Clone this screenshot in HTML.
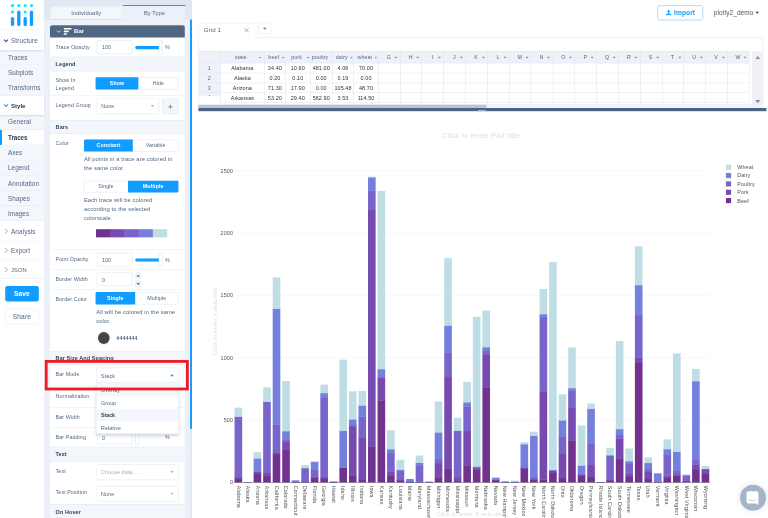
<!DOCTYPE html>
<html lang="en"><head><meta charset="utf-8"><title>Chart Studio - Bar Mode</title><style>
html,body{margin:0;padding:0;background:#fff;}
body{width:768px;height:518px;overflow:hidden;position:relative;font-family:"Liberation Sans",Arial,sans-serif;}
#app{position:absolute;left:0;top:0;width:1920px;height:1295px;transform:scale(0.4);transform-origin:0 0;overflow:hidden;}
#wrap{position:absolute;left:0;top:0;width:768px;height:518px;overflow:hidden;filter:url(#soft);}
#app div,#app svg.abs{position:absolute;}
.t{height:40px;line-height:40px;white-space:nowrap;letter-spacing:0.25px;}
</style></head><body><svg width="0" height="0" style="position:absolute"><defs><filter id="soft" x="0" y="0" width="100%" height="100%" color-interpolation-filters="sRGB"><feGaussianBlur stdDeviation="0.4"/></filter></defs></svg><div id="wrap"><div id="app">
<div style="left:0px;top:0px;width:110px;height:1295px;background:#fff;"></div>
<svg class="abs" style="left:0;top:0" width="110.0" height="77.5"><circle cx="31.25" cy="14.00" r="3.88" fill="#09e5ff"/><circle cx="47.00" cy="14.00" r="3.88" fill="#09e5ff"/><circle cx="63.00" cy="14.00" r="3.88" fill="#09e5ff"/><circle cx="78.75" cy="14.00" r="3.88" fill="#09e5ff"/><circle cx="31.25" cy="30.00" r="3.88" fill="#09e5ff"/><circle cx="63.00" cy="30.00" r="3.88" fill="#09e5ff"/><rect x="27.12" y="42.50" width="8.25" height="22.75" rx="4.12" fill="#119dff"/><rect x="42.88" y="26.50" width="8.25" height="38.75" rx="4.12" fill="#119dff"/><rect x="58.88" y="42.50" width="8.25" height="22.75" rx="4.12" fill="#119dff"/><rect x="74.62" y="26.50" width="8.25" height="38.75" rx="4.12" fill="#119dff"/></svg>
<div style="left:5px;top:74.25px;width:100px;height:1px;background:#dfe8f3;"></div>
<div style="left:0px;top:77px;width:110px;height:48px;background:#fff;box-shadow:0 2px 5px rgba(80,103,132,0.18);z-index:2;"><svg class="abs" style="left:9.0px;top:18.80px" width="12" height="12" viewBox="0 0 12 12"><path d="M1.5 3.5 L6 8 L10.5 3.5" fill="none" stroke="#3b506f" stroke-width="2.7" stroke-linecap="round" stroke-linejoin="round"/></svg></div>
<div class="t" style="left:27.5px;top:82.50px;font-size:16px;color:#506784;font-weight:400;z-index:3;">Structure</div>
<div style="left:0px;top:125px;width:110px;height:38px;background:#f3f6fa;border-bottom:1.5px solid #d9e1ec;box-sizing:border-box;"></div>
<div class="t" style="left:20px;top:123.50px;font-size:15.7px;color:#506784;font-weight:400;">Traces</div>
<div style="left:0px;top:163px;width:110px;height:38px;background:#f3f6fa;border-bottom:1.5px solid #d9e1ec;box-sizing:border-box;"></div>
<div class="t" style="left:20px;top:161.50px;font-size:15.7px;color:#506784;font-weight:400;">Subplots</div>
<div style="left:0px;top:201px;width:110px;height:38px;background:#f3f6fa;border-bottom:1.5px solid #d9e1ec;box-sizing:border-box;"></div>
<div class="t" style="left:20px;top:199.50px;font-size:15.7px;color:#506784;font-weight:400;">Transforms</div>
<div style="left:0px;top:239px;width:110px;height:48px;background:#fff;box-shadow:0 2px 5px rgba(80,103,132,0.18);z-index:2;"><svg class="abs" style="left:9.0px;top:18.80px" width="12" height="12" viewBox="0 0 12 12"><path d="M1.5 3.5 L6 8 L10.5 3.5" fill="none" stroke="#119dff" stroke-width="2.7" stroke-linecap="round" stroke-linejoin="round"/></svg></div>
<div class="t" style="left:27.5px;top:244.50px;font-size:15.6px;color:#2a3f5f;font-weight:700;z-index:3;letter-spacing:-0.2px;">Style</div>
<div style="left:0px;top:287px;width:110px;height:38px;background:#f3f6fa;border-bottom:1.5px solid #d9e1ec;box-sizing:border-box;"></div>
<div class="t" style="left:20px;top:285.50px;font-size:15.7px;color:#506784;font-weight:400;">General</div>
<div style="left:0px;top:325px;width:110px;height:38px;background:#fff;border-bottom:1.5px solid #d9e1ec;box-sizing:border-box;border-left:5.5px solid #119dff;"></div>
<div class="t" style="left:20px;top:323.50px;font-size:15.7px;color:#2a3f5f;font-weight:700;letter-spacing:-0.2px;">Traces</div>
<div style="left:0px;top:363px;width:110px;height:38px;background:#f3f6fa;border-bottom:1.5px solid #d9e1ec;box-sizing:border-box;"></div>
<div class="t" style="left:20px;top:361.50px;font-size:15.7px;color:#506784;font-weight:400;">Axes</div>
<div style="left:0px;top:401px;width:110px;height:38px;background:#f3f6fa;border-bottom:1.5px solid #d9e1ec;box-sizing:border-box;"></div>
<div class="t" style="left:20px;top:399.50px;font-size:15.7px;color:#506784;font-weight:400;">Legend</div>
<div style="left:0px;top:439px;width:110px;height:38px;background:#f3f6fa;border-bottom:1.5px solid #d9e1ec;box-sizing:border-box;"></div>
<div class="t" style="left:20px;top:438.50px;font-size:15.7px;color:#506784;font-weight:400;">Annotation</div>
<div style="left:0px;top:477px;width:110px;height:38px;background:#f3f6fa;border-bottom:1.5px solid #d9e1ec;box-sizing:border-box;"></div>
<div class="t" style="left:20px;top:477.50px;font-size:15.7px;color:#506784;font-weight:400;">Shapes</div>
<div style="left:0px;top:515px;width:110px;height:38px;background:#f3f6fa;border-bottom:1.5px solid #d9e1ec;box-sizing:border-box;"></div>
<div class="t" style="left:20px;top:513.50px;font-size:15.7px;color:#506784;font-weight:400;">Images</div>
<div style="left:0px;top:553px;width:110px;height:48px;background:#fff;border-bottom:1.5px solid #d9e1ec;box-sizing:border-box;"><svg class="abs" style="left:9.75px;top:17.50px" width="12" height="14" viewBox="0 0 12 14"><path d="M3.5 1.5 L8.5 7 L3.5 12.5" fill="none" stroke="#506784" stroke-width="1.4" stroke-linecap="round" stroke-linejoin="round"/></svg></div>
<div class="t" style="left:27.5px;top:558.50px;font-size:16px;color:#506784;font-weight:400;z-index:3;">Analysis</div>
<div style="left:0px;top:601px;width:110px;height:48px;background:#fff;border-bottom:1.5px solid #d9e1ec;box-sizing:border-box;"><svg class="abs" style="left:9.75px;top:17.50px" width="12" height="14" viewBox="0 0 12 14"><path d="M3.5 1.5 L8.5 7 L3.5 12.5" fill="none" stroke="#506784" stroke-width="1.4" stroke-linecap="round" stroke-linejoin="round"/></svg></div>
<div class="t" style="left:27.5px;top:606.50px;font-size:16px;color:#506784;font-weight:400;z-index:3;">Export</div>
<div style="left:0px;top:649px;width:110px;height:48px;background:#fff;border-bottom:1.5px solid #d9e1ec;box-sizing:border-box;"><svg class="abs" style="left:9.75px;top:17.50px" width="12" height="14" viewBox="0 0 12 14"><path d="M3.5 1.5 L8.5 7 L3.5 12.5" fill="none" stroke="#506784" stroke-width="1.4" stroke-linecap="round" stroke-linejoin="round"/></svg></div>
<div class="t" style="left:27.5px;top:654.50px;font-size:14.4px;color:#506784;font-weight:400;z-index:3;">JSON</div>
<div style="left:12.5px;top:715.25px;width:84.38px;height:39px;background:#119dff;border-radius:5px;"></div>
<div class="t" style="left:14.75px;width:80px;text-align:center;top:714.50px;font-size:16.5px;color:#fff;font-weight:700;">Save</div>
<div style="left:13px;top:770.5px;width:83.5px;height:40px;background:#fff;border:1px solid #dfe8f3;border-radius:5px;box-sizing:border-box;"></div>
<div class="t" style="left:14.75px;width:80px;text-align:center;top:770.50px;font-size:16.5px;color:#506784;font-weight:400;">Share</div>
<div style="left:110px;top:0px;width:371.25px;height:1295px;background:#dfe8f3;"></div>
<div style="left:110px;top:48.5px;width:371.25px;height:1246.5px;background:#ecf0f8;"></div>
<div style="left:125px;top:15.62px;width:182.25px;height:33px;background:#f3f6fa;border:1px solid #dfe8f3;border-bottom:1px solid #dfe8f3;border-radius:4px 0 0 0;box-sizing:border-box;"></div>
<div class="t" style="left:115.50px;width:200px;text-align:center;top:13.00px;font-size:14.6px;color:#506784;font-weight:400;">Individually</div>
<div style="left:307.25px;top:11.75px;width:158px;height:37px;background:#ecf0f8;border-top:3.5px solid #119dff;border-right:1px solid #d3dde9;border-radius:4px 4px 0 0;box-sizing:border-box;"></div>
<div class="t" style="left:286.25px;width:200px;text-align:center;top:13.00px;font-size:14.1px;color:#506784;font-weight:400;">By Type</div>
<div style="left:125px;top:48px;width:182.25px;height:1.25px;background:#d0dae7;"></div>
<div style="left:475px;top:48.5px;width:6px;height:1246.5px;background:#e3e9f3;"></div>
<div style="left:475px;top:48.5px;width:5.75px;height:1023.25px;background:#1c9bff;"></div>
<div style="left:125px;top:62.5px;width:336.75px;height:1232.5px;background:#fff;"></div>
<div style="left:125px;top:62.5px;width:336.75px;height:31.88px;background:#506784;border-radius:5px 5px 0 0;"></div>
<svg class="abs" style="left:140.75px;top:73.25px" width="12" height="12" viewBox="0 0 12 12"><path d="M2 4 L6 8 L10 4" fill="none" stroke="#eef2f8" stroke-width="2.2" stroke-linecap="round" stroke-linejoin="round"/></svg>
<svg class="abs" style="left:158.5px;top:70.25px" width="22" height="18" viewBox="0 0 22 18"><rect x="0" y="0" width="20" height="4" rx="1" fill="#fff"/><rect x="0" y="6.5" width="13" height="4" rx="1" fill="#fff"/><rect x="0" y="13" width="8" height="4" rx="1" fill="#fff"/></svg>
<div class="t" style="left:185px;top:58.25px;font-size:15px;color:#fff;font-weight:700;">Bar</div>
<div class="t" style="left:139px;top:98.25px;font-size:13.3px;color:#506784;font-weight:400;">Trace Opacity</div>
<div style="left:241.5px;top:100.75px;width:89.13px;height:34.5px;background:#fff;border:1.5px solid #d2dbe8;border-radius:4px;box-sizing:border-box;"></div>
<div class="t" style="left:255px;top:98.50px;font-size:13.3px;color:#506784;font-weight:400;">100</div>
<div style="left:337.5px;top:115px;width:65px;height:7.5px;background:#fff;border:1px solid #dfe8f3;border-radius:4px;box-sizing:border-box;"></div>
<div style="left:337.5px;top:115px;width:65px;height:7.5px;background:#119dff;border-radius:4px;"></div>
<div style="left:397px;top:100.75px;width:9.75px;height:36px;background:#fff;border:1.5px solid #ccd6e4;border-radius:4px;box-sizing:border-box;"></div>
<div class="t" style="left:412.5px;top:98.75px;font-size:13.3px;color:#506784;font-weight:400;">%</div>
<div style="left:125px;top:142.25px;width:336.75px;height:35.25px;background:#f3f6fa;border-top:1px solid #dfe8f3;border-bottom:1px solid #dfe8f3;box-sizing:border-box;"></div>
<div class="t" style="left:139px;top:141.12px;font-size:13.6px;color:#2a3f5f;font-weight:700;">Legend</div>
<div class="t" style="left:139px;top:180.75px;font-size:13.3px;color:#506784;font-weight:400;">Show In</div>
<div class="t" style="left:139px;top:202.00px;font-size:13.3px;color:#506784;font-weight:400;">Legend</div>
<div style="left:239px;top:193.12px;width:207.25px;height:30.62px;background:#fff;border:1.5px solid #d2dbe8;border-radius:3px;box-sizing:border-box;"></div>
<div style="left:239px;top:193.12px;width:107.25px;height:30.62px;background:#119dff;border-radius:3px 0 0 3px;"></div>
<div class="t" style="left:192.62px;width:200px;text-align:center;top:188.44px;font-size:13.3px;color:#fff;font-weight:700;">Show</div>
<div class="t" style="left:296.25px;width:200px;text-align:center;top:188.44px;font-size:13.3px;color:#506784;font-weight:400;">Hide</div>
<div style="left:125px;top:238px;width:336.75px;height:1px;background:#dfe8f3;"></div>
<div class="t" style="left:139px;top:243.25px;font-size:13.3px;color:#506784;font-weight:400;">Legend Group</div>
<div style="left:241.5px;top:246.25px;width:156.25px;height:39px;background:#fff;border:1.5px solid #d2dbe8;border-radius:4px;box-sizing:border-box;"></div>
<div class="t" style="left:253px;top:247.00px;font-size:13.3px;color:#506784;font-weight:400;">None</div>
<svg class="abs" style="left:375.50px;top:262.25px" width="10" height="6" viewBox="0 0 10 6"><polygon points="0,0 10,0 5,6" fill="#aebbd0"/></svg>
<div style="left:405.62px;top:246.25px;width:40.62px;height:39px;background:#f3f6fa;border:1.5px solid #d2dbe8;border-radius:4px;box-sizing:border-box;"></div>
<svg class="abs" style="left:420.00px;top:261.25px" width="12" height="12" viewBox="0 0 12 12"><path d="M6 0.5V11.5M0.5 6H11.5" stroke="#506784" stroke-width="1.6" fill="none"/></svg>
<div style="left:125px;top:299.5px;width:336.75px;height:35.25px;background:#f3f6fa;border-top:1px solid #dfe8f3;border-bottom:1px solid #dfe8f3;box-sizing:border-box;"></div>
<div class="t" style="left:139px;top:298.38px;font-size:13.6px;color:#2a3f5f;font-weight:700;">Bars</div>
<div class="t" style="left:139px;top:338.75px;font-size:13.3px;color:#506784;font-weight:400;">Color</div>
<div style="left:209.75px;top:348.5px;width:236.5px;height:30.25px;background:#fff;border:1.5px solid #d2dbe8;border-radius:3px;box-sizing:border-box;"></div>
<div style="left:209.75px;top:348.5px;width:122.5px;height:30.25px;background:#119dff;border-radius:3px 0 0 3px;"></div>
<div class="t" style="left:171.00px;width:200px;text-align:center;top:343.62px;font-size:13.3px;color:#fff;font-weight:700;">Constant</div>
<div class="t" style="left:289.25px;width:200px;text-align:center;top:343.62px;font-size:13.3px;color:#506784;font-weight:400;">Variable</div>
<div class="t" style="left:209.75px;top:377.25px;font-size:14.4px;color:#506784;font-weight:400;">All points in a trace are colored in</div>
<div class="t" style="left:209.75px;top:400.25px;font-size:14.4px;color:#506784;font-weight:400;">the same color.</div>
<div style="left:209.75px;top:451.5px;width:236.5px;height:29.75px;background:#fff;border:1.5px solid #d2dbe8;border-radius:3px;box-sizing:border-box;"></div>
<div style="left:319.75px;top:451.5px;width:126.5px;height:29.75px;background:#119dff;border-radius:0 3px 3px 0;"></div>
<div class="t" style="left:164.75px;width:200px;text-align:center;top:446.38px;font-size:13.3px;color:#506784;font-weight:400;">Single</div>
<div class="t" style="left:283.00px;width:200px;text-align:center;top:446.38px;font-size:13.3px;color:#fff;font-weight:700;">Multiple</div>
<div class="t" style="left:209.75px;top:480.25px;font-size:14.4px;color:#506784;font-weight:400;">Each trace will be colored</div>
<div class="t" style="left:209.75px;top:502.00px;font-size:14.4px;color:#506784;font-weight:400;">according to the selected</div>
<div class="t" style="left:209.75px;top:524.25px;font-size:14.4px;color:#506784;font-weight:400;">colorscale.</div>
<div style="left:239.5px;top:573.12px;width:37px;height:20.62px;background:#71328d;"></div>
<div style="left:275.23px;top:573.12px;width:37px;height:20.62px;background:#774aaf;"></div>
<div style="left:310.95px;top:573.12px;width:37px;height:20.62px;background:#7864ca;"></div>
<div style="left:346.67px;top:573.12px;width:37px;height:20.62px;background:#757fdd;"></div>
<div style="left:382.4px;top:573.12px;width:35.72px;height:20.62px;background:#bfdde5;"></div>
<div style="left:125px;top:623.25px;width:336.75px;height:1px;background:#dfe8f3;"></div>
<div class="t" style="left:139px;top:628.25px;font-size:13.3px;color:#506784;font-weight:400;">Point Opacity</div>
<div style="left:241.5px;top:631.88px;width:89.13px;height:34.38px;background:#fff;border:1.5px solid #d2dbe8;border-radius:4px;box-sizing:border-box;"></div>
<div class="t" style="left:255px;top:629.56px;font-size:13.3px;color:#506784;font-weight:400;">100</div>
<div style="left:337.5px;top:646px;width:65px;height:7.5px;background:#fff;border:1px solid #dfe8f3;border-radius:4px;box-sizing:border-box;"></div>
<div style="left:337.5px;top:646px;width:65px;height:7.5px;background:#119dff;border-radius:4px;"></div>
<div style="left:397px;top:631.75px;width:9.75px;height:36px;background:#fff;border:1.5px solid #ccd6e4;border-radius:4px;box-sizing:border-box;"></div>
<div class="t" style="left:412.5px;top:629.75px;font-size:13.3px;color:#506784;font-weight:400;">%</div>
<div style="left:125px;top:673.25px;width:336.75px;height:1px;background:#dfe8f3;"></div>
<div class="t" style="left:139px;top:677.50px;font-size:13.3px;color:#506784;font-weight:400;">Border Width</div>
<div style="left:241.5px;top:681px;width:89.13px;height:34.25px;background:#fff;border:1.5px solid #d2dbe8;border-radius:4px;box-sizing:border-box;"></div>
<div class="t" style="left:255px;top:680.00px;font-size:13.3px;color:#506784;font-weight:400;">0</div>
<div style="left:338.5px;top:681px;width:14.75px;height:15.75px;background:#f3f6fa;border:1.5px solid #d2dbe8;border-radius:2px;box-sizing:border-box;"></div>
<svg class="abs" style="left:341.38px;top:685.87px" width="9" height="6" viewBox="0 0 6 4"><polygon points="0,4 6,4 3,0" fill="#506784"/></svg>
<div style="left:338.5px;top:701.75px;width:14.75px;height:15.75px;background:#f3f6fa;border:1.5px solid #d2dbe8;border-radius:2px;box-sizing:border-box;"></div>
<svg class="abs" style="left:341.38px;top:706.62px" width="9" height="6" viewBox="0 0 6 4"><polygon points="0,0 6,0 3,4" fill="#506784"/></svg>
<div style="left:125px;top:722.62px;width:336.75px;height:1px;background:#dfe8f3;"></div>
<div class="t" style="left:139px;top:727.75px;font-size:13.3px;color:#506784;font-weight:400;">Border Color</div>
<div style="left:239px;top:730px;width:207.25px;height:31.25px;background:#fff;border:1.5px solid #d2dbe8;border-radius:3px;box-sizing:border-box;"></div>
<div style="left:239px;top:730px;width:98.5px;height:31.25px;background:#119dff;border-radius:3px 0 0 3px;"></div>
<div class="t" style="left:188.25px;width:200px;text-align:center;top:725.62px;font-size:13.3px;color:#fff;font-weight:700;">Single</div>
<div class="t" style="left:291.88px;width:200px;text-align:center;top:725.62px;font-size:13.3px;color:#506784;font-weight:400;">Multiple</div>
<div class="t" style="left:240.5px;top:759.75px;font-size:14.4px;color:#506784;font-weight:400;">All will be colored in the same</div>
<div class="t" style="left:240.5px;top:782.75px;font-size:14.4px;color:#506784;font-weight:400;">color.</div>
<div style="left:241.38px;top:827px;width:36px;height:36px;background:#fff;border:1.5px solid #d2dbe8;border-radius:50%;box-sizing:border-box;"></div>
<div style="left:244.62px;top:830.25px;width:29.5px;height:29.5px;background:#444;border-radius:50%;"></div>
<div class="t" style="left:291.5px;top:825.25px;font-size:12.9px;color:#506784;font-weight:700;">#444444</div>
<div style="left:125px;top:877.5px;width:336.75px;height:35.5px;background:#f3f6fa;border-top:1px solid #dfe8f3;border-bottom:1px solid #dfe8f3;box-sizing:border-box;"></div>
<div class="t" style="left:139px;top:876.50px;font-size:13.6px;color:#2a3f5f;font-weight:700;">Bar Size And Spacing</div>
<div class="t" style="left:139px;top:916.25px;font-size:13.3px;color:#506784;font-weight:400;">Bar Mode</div>
<div style="left:241.25px;top:919px;width:205.62px;height:39.12px;background:#fff;border:1.5px solid #d2dbe8;border-radius:4px;box-sizing:border-box;"></div>
<div class="t" style="left:252.75px;top:919.81px;font-size:13.3px;color:#506784;font-weight:400;">Stack</div>
<svg class="abs" style="left:424.62px;top:935.31px" width="10" height="6" viewBox="0 0 10 6"><polygon points="0,6 10,6 5,0" fill="#119dff"/></svg>
<div style="left:125px;top:965.5px;width:336.75px;height:1px;background:#dfe8f3;"></div>
<div class="t" style="left:139px;top:969.50px;font-size:13.3px;color:#506784;font-weight:400;">Normalization</div>
<div style="left:125px;top:1018.5px;width:336.75px;height:1px;background:#dfe8f3;"></div>
<div class="t" style="left:139px;top:1023.75px;font-size:13.3px;color:#506784;font-weight:400;">Bar Width</div>
<div style="left:125px;top:1067.62px;width:336.75px;height:1px;background:#dfe8f3;"></div>
<div class="t" style="left:139px;top:1073.25px;font-size:13.3px;color:#506784;font-weight:400;">Bar Padding</div>
<div style="left:241.5px;top:1076.5px;width:89.13px;height:34.5px;background:#fff;border:1.5px solid #d2dbe8;border-radius:4px;box-sizing:border-box;"></div>
<div class="t" style="left:255px;top:1075.75px;font-size:13.3px;color:#506784;font-weight:400;">0</div>
<div style="left:348px;top:1089.75px;width:57px;height:7.5px;background:#fff;border:1px solid #dfe8f3;border-radius:4px;box-sizing:border-box;"></div>
<div style="left:338.25px;top:1075.5px;width:9.75px;height:36px;background:#fff;border:1.5px solid #ccd6e4;border-radius:4px;box-sizing:border-box;"></div>
<div class="t" style="left:412.5px;top:1073.50px;font-size:13.3px;color:#506784;font-weight:400;">%</div>
<div style="left:125px;top:1117.25px;width:336.75px;height:36.5px;background:#f3f6fa;border-top:1px solid #dfe8f3;border-bottom:1px solid #dfe8f3;box-sizing:border-box;"></div>
<div class="t" style="left:139px;top:1116.75px;font-size:13.6px;color:#2a3f5f;font-weight:700;">Text</div>
<div class="t" style="left:139px;top:1158.50px;font-size:13.3px;color:#506784;font-weight:400;">Text</div>
<div style="left:241.25px;top:1160.62px;width:205.62px;height:39.38px;background:#fff;border:1.5px solid #d2dbe8;border-radius:4px;box-sizing:border-box;"></div>
<div class="t" style="left:252.75px;top:1161.56px;font-size:13.3px;color:#a2b1c6;font-weight:400;">Choose data...</div>
<svg class="abs" style="left:424.62px;top:1176.81px" width="10" height="6" viewBox="0 0 10 6"><polygon points="0,0 10,0 5,6" fill="#aebbd0"/></svg>
<div class="t" style="left:139px;top:1212.25px;font-size:13.3px;color:#506784;font-weight:400;">Text Position</div>
<div style="left:241.25px;top:1214.75px;width:205.62px;height:39.63px;background:#fff;border:1.5px solid #d2dbe8;border-radius:4px;box-sizing:border-box;"></div>
<div class="t" style="left:252.75px;top:1215.81px;font-size:13.3px;color:#506784;font-weight:400;">None</div>
<svg class="abs" style="left:424.62px;top:1231.06px" width="10" height="6" viewBox="0 0 10 6"><polygon points="0,0 10,0 5,6" fill="#aebbd0"/></svg>
<div style="left:125px;top:1260px;width:336.75px;height:37.5px;background:#f3f6fa;border-top:1px solid #dfe8f3;border-bottom:1px solid #dfe8f3;box-sizing:border-box;"></div>
<div class="t" style="left:139px;top:1260.00px;font-size:13.6px;color:#2a3f5f;font-weight:700;">On Hover</div>
<div style="left:241.25px;top:958.38px;width:205.62px;height:126.8px;background:#fff;border:1px solid #dfe8f3;border-top:none;box-sizing:border-box;box-shadow:0 3px 8px rgba(80,103,132,0.25);border-radius:0 0 4px 4px;"></div>
<div style="left:242.25px;top:958.38px;width:203.62px;height:31.7px;background:#f3f6fa;"></div>
<div class="t" style="left:252.5px;top:955.97px;font-size:13.3px;color:#506784;font-weight:400;">Overlay</div>
<div class="t" style="left:252.5px;top:987.67px;font-size:13.3px;color:#506784;font-weight:400;">Group</div>
<div style="left:242.25px;top:1021.78px;width:203.62px;height:31.7px;background:#f3f6fa;"></div>
<div class="t" style="left:252.5px;top:1019.38px;font-size:13.3px;color:#2a3f5f;font-weight:700;letter-spacing:-0.1px;">Stack</div>
<div class="t" style="left:252.5px;top:1051.08px;font-size:13.3px;color:#506784;font-weight:400;">Relative</div>
<div style="left:111.88px;top:900.25px;width:360.62px;height:76px;border:7.5px solid #ed1c24;box-sizing:border-box;"></div>
<div style="left:481.25px;top:0px;width:1438.75px;height:1295px;background:#fff;"></div>
<div style="left:1642.5px;top:12.5px;width:115.75px;height:38.25px;background:#fff;border:2px solid #9dd3fb;border-radius:6px;box-sizing:border-box;"></div>
<svg class="abs" style="left:1663.75px;top:23.50px" width="15" height="15" viewBox="0 0 15 15"><path d="M7.5 0.5 L12 5.6 H9.3 V9.8 H5.7 V5.6 H3 Z" fill="#119dff"/><rect x="1" y="10.6" width="13" height="3.6" rx="1" fill="#119dff"/></svg>
<div class="t" style="left:1685px;top:11.25px;font-size:16.5px;color:#119dff;font-weight:700;">Import</div>
<div class="t" style="left:1784.5px;top:11.25px;font-size:16.2px;color:#555;font-weight:400;">plotly2_demo</div>
<svg class="abs" style="left:1888.25px;top:29.00px" width="10" height="6" viewBox="0 0 10 6"><polygon points="0,0 10,0 5,6" fill="#555"/></svg>
<div style="left:495.75px;top:94.25px;width:1412.5px;height:168px;border:1.5px solid #d6dfeb;box-sizing:border-box;background:#fff;"></div>
<div style="left:495.75px;top:56.75px;width:142.5px;height:39px;background:#fff;border:1.5px solid #d6dfeb;border-bottom:none;border-radius:4px 4px 0 0;box-sizing:border-box;"></div>
<div class="t" style="left:509.5px;top:55.75px;font-size:15.2px;color:#506784;font-weight:400;">Grid 1</div>
<svg class="abs" style="left:609.50px;top:69.25px" width="13" height="13" viewBox="0 0 10 10"><path d="M1 1L9 9M9 1L1 9" stroke="#7388a3" stroke-width="1.3" fill="none"/></svg>
<div style="left:645px;top:56.75px;width:33.25px;height:28.5px;background:#fff;border:1.5px solid #d6dfeb;border-radius:4px;box-sizing:border-box;"></div>
<svg class="abs" style="left:656.75px;top:66.25px" width="10" height="10" viewBox="0 0 10 10"><path d="M5 0.5V9.5M0.5 5H9.5" stroke="#506784" stroke-width="1.5" fill="none"/></svg>
<div style="left:496.25px;top:128.25px;width:1377px;height:29.5px;background:#eef2f8;"></div>
<div style="left:496.25px;top:128.25px;width:54.5px;height:112.5px;background:#eef2f8;"></div>
<div style="left:496.25px;top:127.75px;width:1377px;height:1px;background:#d9dfe8;"></div>
<div style="left:496.25px;top:157.25px;width:1377px;height:1px;background:#d9dfe8;"></div>
<div style="left:496.25px;top:181.87px;width:1377px;height:1px;background:#d9dfe8;"></div>
<div style="left:496.25px;top:206.5px;width:1377px;height:1px;background:#d9dfe8;"></div>
<div style="left:496.25px;top:231.12px;width:1377px;height:1px;background:#d9dfe8;"></div>
<div style="left:496.25px;top:255.75px;width:1377px;height:1px;background:#d9dfe8;"></div>
<div style="left:550.25px;top:128.25px;width:1px;height:133.25px;background:#d9dfe8;"></div>
<div style="left:660.75px;top:128.25px;width:1px;height:133.25px;background:#d9dfe8;"></div>
<div style="left:712.75px;top:128.25px;width:1px;height:133.25px;background:#d9dfe8;"></div>
<div style="left:775.25px;top:128.25px;width:1px;height:133.25px;background:#d9dfe8;"></div>
<div style="left:830px;top:128.25px;width:1px;height:133.25px;background:#d9dfe8;"></div>
<div style="left:884px;top:128.25px;width:1px;height:133.25px;background:#d9dfe8;"></div>
<div style="left:945.25px;top:128.25px;width:1px;height:133.25px;background:#d9dfe8;"></div>
<div style="left:999.81px;top:128.25px;width:1px;height:133.25px;background:#d9dfe8;"></div>
<div style="left:1054.37px;top:128.25px;width:1px;height:133.25px;background:#d9dfe8;"></div>
<div style="left:1108.93px;top:128.25px;width:1px;height:133.25px;background:#d9dfe8;"></div>
<div style="left:1163.49px;top:128.25px;width:1px;height:133.25px;background:#d9dfe8;"></div>
<div style="left:1218.04px;top:128.25px;width:1px;height:133.25px;background:#d9dfe8;"></div>
<div style="left:1272.6px;top:128.25px;width:1px;height:133.25px;background:#d9dfe8;"></div>
<div style="left:1327.16px;top:128.25px;width:1px;height:133.25px;background:#d9dfe8;"></div>
<div style="left:1381.72px;top:128.25px;width:1px;height:133.25px;background:#d9dfe8;"></div>
<div style="left:1436.28px;top:128.25px;width:1px;height:133.25px;background:#d9dfe8;"></div>
<div style="left:1490.84px;top:128.25px;width:1px;height:133.25px;background:#d9dfe8;"></div>
<div style="left:1545.4px;top:128.25px;width:1px;height:133.25px;background:#d9dfe8;"></div>
<div style="left:1599.96px;top:128.25px;width:1px;height:133.25px;background:#d9dfe8;"></div>
<div style="left:1654.51px;top:128.25px;width:1px;height:133.25px;background:#d9dfe8;"></div>
<div style="left:1709.07px;top:128.25px;width:1px;height:133.25px;background:#d9dfe8;"></div>
<div style="left:1763.63px;top:128.25px;width:1px;height:133.25px;background:#d9dfe8;"></div>
<div style="left:1818.19px;top:128.25px;width:1px;height:133.25px;background:#d9dfe8;"></div>
<div style="left:1872.75px;top:128.25px;width:1px;height:133.25px;background:#d9dfe8;"></div>
<div style="left:496.75px;top:240.75px;width:53.5px;height:21px;background:#fff;"></div>
<div class="t" style="left:542.25px;width:120px;text-align:center;top:123.50px;font-size:13.3px;color:#506784;font-weight:400;">state</div>
<svg class="abs" style="left:646.75px;top:141.50px" width="7" height="5" viewBox="0 0 7 5"><polygon points="0,0 7,0 3.5,5" fill="#8a9bb3"/></svg>
<div class="t" style="left:624.25px;width:120px;text-align:center;top:123.50px;font-size:13.3px;color:#506784;font-weight:400;">beef</div>
<svg class="abs" style="left:703.75px;top:141.75px" width="7" height="5" viewBox="0 0 6 4"><polygon points="0,0 6,0 3,4" fill="#8592a6"/></svg>
<div class="t" style="left:681.50px;width:120px;text-align:center;top:123.50px;font-size:13.3px;color:#506784;font-weight:400;">pork</div>
<svg class="abs" style="left:766.25px;top:141.75px" width="7" height="5" viewBox="0 0 6 4"><polygon points="0,0 6,0 3,4" fill="#8592a6"/></svg>
<div class="t" style="left:740.12px;width:120px;text-align:center;top:123.50px;font-size:13.3px;color:#506784;font-weight:400;">poultry</div>
<div class="t" style="left:794.50px;width:120px;text-align:center;top:123.50px;font-size:13.3px;color:#506784;font-weight:400;">dairy</div>
<svg class="abs" style="left:875.00px;top:141.75px" width="7" height="5" viewBox="0 0 6 4"><polygon points="0,0 6,0 3,4" fill="#8592a6"/></svg>
<div class="t" style="left:852.12px;width:120px;text-align:center;top:123.50px;font-size:13.3px;color:#506784;font-weight:400;">wheat</div>
<svg class="abs" style="left:936.25px;top:141.75px" width="7" height="5" viewBox="0 0 6 4"><polygon points="0,0 6,0 3,4" fill="#8592a6"/></svg>
<div class="t" style="left:942.00px;width:60px;text-align:center;top:123.50px;font-size:13.3px;color:#506784;font-weight:400;">G</div>
<svg class="abs" style="left:985.31px;top:141.25px" width="9" height="6" viewBox="0 0 7 5"><polygon points="0,0 7,0 3.5,5" fill="#8592a6"/></svg>
<div class="t" style="left:996.56px;width:60px;text-align:center;top:123.50px;font-size:13.3px;color:#506784;font-weight:400;">H</div>
<svg class="abs" style="left:1039.87px;top:141.25px" width="9" height="6" viewBox="0 0 7 5"><polygon points="0,0 7,0 3.5,5" fill="#8592a6"/></svg>
<div class="t" style="left:1051.12px;width:60px;text-align:center;top:123.50px;font-size:13.3px;color:#506784;font-weight:400;">I</div>
<svg class="abs" style="left:1094.43px;top:141.25px" width="9" height="6" viewBox="0 0 7 5"><polygon points="0,0 7,0 3.5,5" fill="#8592a6"/></svg>
<div class="t" style="left:1105.68px;width:60px;text-align:center;top:123.50px;font-size:13.3px;color:#506784;font-weight:400;">J</div>
<svg class="abs" style="left:1148.99px;top:141.25px" width="9" height="6" viewBox="0 0 7 5"><polygon points="0,0 7,0 3.5,5" fill="#8592a6"/></svg>
<div class="t" style="left:1160.24px;width:60px;text-align:center;top:123.50px;font-size:13.3px;color:#506784;font-weight:400;">K</div>
<svg class="abs" style="left:1203.54px;top:141.25px" width="9" height="6" viewBox="0 0 7 5"><polygon points="0,0 7,0 3.5,5" fill="#8592a6"/></svg>
<div class="t" style="left:1214.79px;width:60px;text-align:center;top:123.50px;font-size:13.3px;color:#506784;font-weight:400;">L</div>
<svg class="abs" style="left:1258.10px;top:141.25px" width="9" height="6" viewBox="0 0 7 5"><polygon points="0,0 7,0 3.5,5" fill="#8592a6"/></svg>
<div class="t" style="left:1269.35px;width:60px;text-align:center;top:123.50px;font-size:13.3px;color:#506784;font-weight:400;">M</div>
<svg class="abs" style="left:1312.66px;top:141.25px" width="9" height="6" viewBox="0 0 7 5"><polygon points="0,0 7,0 3.5,5" fill="#8592a6"/></svg>
<div class="t" style="left:1323.91px;width:60px;text-align:center;top:123.50px;font-size:13.3px;color:#506784;font-weight:400;">N</div>
<svg class="abs" style="left:1367.22px;top:141.25px" width="9" height="6" viewBox="0 0 7 5"><polygon points="0,0 7,0 3.5,5" fill="#8592a6"/></svg>
<div class="t" style="left:1378.47px;width:60px;text-align:center;top:123.50px;font-size:13.3px;color:#506784;font-weight:400;">O</div>
<svg class="abs" style="left:1421.78px;top:141.25px" width="9" height="6" viewBox="0 0 7 5"><polygon points="0,0 7,0 3.5,5" fill="#8592a6"/></svg>
<div class="t" style="left:1433.03px;width:60px;text-align:center;top:123.50px;font-size:13.3px;color:#506784;font-weight:400;">P</div>
<svg class="abs" style="left:1476.34px;top:141.25px" width="9" height="6" viewBox="0 0 7 5"><polygon points="0,0 7,0 3.5,5" fill="#8592a6"/></svg>
<div class="t" style="left:1487.59px;width:60px;text-align:center;top:123.50px;font-size:13.3px;color:#506784;font-weight:400;">Q</div>
<svg class="abs" style="left:1530.90px;top:141.25px" width="9" height="6" viewBox="0 0 7 5"><polygon points="0,0 7,0 3.5,5" fill="#8592a6"/></svg>
<div class="t" style="left:1542.15px;width:60px;text-align:center;top:123.50px;font-size:13.3px;color:#506784;font-weight:400;">R</div>
<svg class="abs" style="left:1585.46px;top:141.25px" width="9" height="6" viewBox="0 0 7 5"><polygon points="0,0 7,0 3.5,5" fill="#8592a6"/></svg>
<div class="t" style="left:1596.71px;width:60px;text-align:center;top:123.50px;font-size:13.3px;color:#506784;font-weight:400;">S</div>
<svg class="abs" style="left:1640.01px;top:141.25px" width="9" height="6" viewBox="0 0 7 5"><polygon points="0,0 7,0 3.5,5" fill="#8592a6"/></svg>
<div class="t" style="left:1651.26px;width:60px;text-align:center;top:123.50px;font-size:13.3px;color:#506784;font-weight:400;">T</div>
<svg class="abs" style="left:1694.57px;top:141.25px" width="9" height="6" viewBox="0 0 7 5"><polygon points="0,0 7,0 3.5,5" fill="#8592a6"/></svg>
<div class="t" style="left:1705.82px;width:60px;text-align:center;top:123.50px;font-size:13.3px;color:#506784;font-weight:400;">U</div>
<svg class="abs" style="left:1749.13px;top:141.25px" width="9" height="6" viewBox="0 0 7 5"><polygon points="0,0 7,0 3.5,5" fill="#8592a6"/></svg>
<div class="t" style="left:1760.38px;width:60px;text-align:center;top:123.50px;font-size:13.3px;color:#506784;font-weight:400;">V</div>
<svg class="abs" style="left:1803.69px;top:141.25px" width="9" height="6" viewBox="0 0 7 5"><polygon points="0,0 7,0 3.5,5" fill="#8592a6"/></svg>
<div class="t" style="left:1814.94px;width:60px;text-align:center;top:123.50px;font-size:13.3px;color:#506784;font-weight:400;">W</div>
<svg class="abs" style="left:1858.25px;top:141.25px" width="9" height="6" viewBox="0 0 7 5"><polygon points="0,0 7,0 3.5,5" fill="#8592a6"/></svg>
<div class="t" style="left:493.00px;width:60px;text-align:center;top:151.31px;font-size:13.3px;color:#506784;font-weight:400;">1</div>
<div class="t" style="left:536.00px;width:140px;text-align:center;top:151.31px;font-size:13.6px;color:#333;font-weight:400;">Alabama</div>
<div class="t" style="left:617.25px;width:140px;text-align:center;top:151.31px;font-size:13.6px;color:#333;font-weight:400;">34.40</div>
<div class="t" style="left:674.50px;width:140px;text-align:center;top:151.31px;font-size:13.6px;color:#333;font-weight:400;">10.60</div>
<div class="t" style="left:733.12px;width:140px;text-align:center;top:151.31px;font-size:13.6px;color:#333;font-weight:400;">481.00</div>
<div class="t" style="left:787.50px;width:140px;text-align:center;top:151.31px;font-size:13.6px;color:#333;font-weight:400;">4.06</div>
<div class="t" style="left:845.12px;width:140px;text-align:center;top:151.31px;font-size:13.6px;color:#333;font-weight:400;">70.00</div>
<div class="t" style="left:493.00px;width:60px;text-align:center;top:175.94px;font-size:13.3px;color:#506784;font-weight:400;">2</div>
<div class="t" style="left:536.00px;width:140px;text-align:center;top:175.94px;font-size:13.6px;color:#333;font-weight:400;">Alaska</div>
<div class="t" style="left:617.25px;width:140px;text-align:center;top:175.94px;font-size:13.6px;color:#333;font-weight:400;">0.20</div>
<div class="t" style="left:674.50px;width:140px;text-align:center;top:175.94px;font-size:13.6px;color:#333;font-weight:400;">0.10</div>
<div class="t" style="left:733.12px;width:140px;text-align:center;top:175.94px;font-size:13.6px;color:#333;font-weight:400;">0.00</div>
<div class="t" style="left:787.50px;width:140px;text-align:center;top:175.94px;font-size:13.6px;color:#333;font-weight:400;">0.19</div>
<div class="t" style="left:845.12px;width:140px;text-align:center;top:175.94px;font-size:13.6px;color:#333;font-weight:400;">0.00</div>
<div class="t" style="left:493.00px;width:60px;text-align:center;top:200.56px;font-size:13.3px;color:#506784;font-weight:400;">3</div>
<div class="t" style="left:536.00px;width:140px;text-align:center;top:200.56px;font-size:13.6px;color:#333;font-weight:400;">Arizona</div>
<div class="t" style="left:617.25px;width:140px;text-align:center;top:200.56px;font-size:13.6px;color:#333;font-weight:400;">71.30</div>
<div class="t" style="left:674.50px;width:140px;text-align:center;top:200.56px;font-size:13.6px;color:#333;font-weight:400;">17.90</div>
<div class="t" style="left:733.12px;width:140px;text-align:center;top:200.56px;font-size:13.6px;color:#333;font-weight:400;">0.00</div>
<div class="t" style="left:787.50px;width:140px;text-align:center;top:200.56px;font-size:13.6px;color:#333;font-weight:400;">105.48</div>
<div class="t" style="left:845.12px;width:140px;text-align:center;top:200.56px;font-size:13.6px;color:#333;font-weight:400;">48.70</div>
<div style="left:522px;top:238px;width:2.5px;height:2px;background:#7f93ad;"></div>
<div class="t" style="left:536.00px;width:140px;text-align:center;top:225.19px;font-size:13.6px;color:#333;font-weight:400;">Arkansas</div>
<div class="t" style="left:617.25px;width:140px;text-align:center;top:225.19px;font-size:13.6px;color:#333;font-weight:400;">53.20</div>
<div class="t" style="left:674.50px;width:140px;text-align:center;top:225.19px;font-size:13.6px;color:#333;font-weight:400;">29.40</div>
<div class="t" style="left:733.12px;width:140px;text-align:center;top:225.19px;font-size:13.6px;color:#333;font-weight:400;">562.90</div>
<div class="t" style="left:787.50px;width:140px;text-align:center;top:225.19px;font-size:13.6px;color:#333;font-weight:400;">3.53</div>
<div class="t" style="left:845.12px;width:140px;text-align:center;top:225.19px;font-size:13.6px;color:#333;font-weight:400;">114.50</div>
<div style="left:1880px;top:128.25px;width:28px;height:133.75px;background:#eff1f6;"></div>
<svg class="abs" style="left:1887.50px;top:140.00px" width="13" height="8" viewBox="0 0 10 6"><polygon points="0,6 10,6 5,0" fill="#8b8f97"/></svg>
<svg class="abs" style="left:1887.50px;top:250.00px" width="13" height="8" viewBox="0 0 10 6"><polygon points="0,0 10,0 5,6" fill="#8b8f97"/></svg>
<div style="left:495.75px;top:262px;width:1412.5px;height:7.5px;background:#f1f3f8;"></div>
<div style="left:495.75px;top:262px;width:720px;height:7.5px;background:#b6c4d7;"></div>
<div style="left:495.75px;top:269.5px;width:1420px;height:8px;background:#4c6382;"></div>
<div style="left:1195px;top:275.25px;width:19.5px;height:2.25px;background:#a9b7cb;"></div>
<svg class="abs" style="left:481.25px;top:277.5px" width="1438.75" height="1017.5" font-family="'Liberation Sans', Arial, sans-serif" letter-spacing="0.3"><line x1="103.00" x2="1294.50" y1="772.30" y2="772.30" stroke="#eee" stroke-width="1"/><line x1="103.00" x2="1294.50" y1="616.35" y2="616.35" stroke="#eee" stroke-width="1"/><line x1="103.00" x2="1294.50" y1="460.40" y2="460.40" stroke="#eee" stroke-width="1"/><line x1="103.00" x2="1294.50" y1="304.45" y2="304.45" stroke="#eee" stroke-width="1"/><line x1="103.00" x2="1294.50" y1="148.50" y2="148.50" stroke="#eee" stroke-width="1"/><text x="101.75" y="933.05" text-anchor="end" font-size="13.5" fill="#555">0</text><text x="101.75" y="777.10" text-anchor="end" font-size="13.5" fill="#555">500</text><text x="101.75" y="621.15" text-anchor="end" font-size="13.5" fill="#555">1000</text><text x="101.75" y="465.20" text-anchor="end" font-size="13.5" fill="#555">1500</text><text x="101.75" y="309.25" text-anchor="end" font-size="13.5" fill="#555">2000</text><text x="101.75" y="153.30" text-anchor="end" font-size="13.5" fill="#555">2500</text><rect x="105.38" y="917.52" width="19.06" height="10.73" fill="#71328d"/><rect x="105.38" y="914.21" width="19.06" height="4.31" fill="#774aaf"/><rect x="105.38" y="764.19" width="19.06" height="151.02" fill="#7864ca"/><rect x="105.38" y="762.92" width="19.06" height="2.27" fill="#757fdd"/><rect x="105.38" y="741.09" width="19.06" height="22.83" fill="#bfdde5"/><rect x="129.21" y="928.19" width="19.06" height="0.06" fill="#71328d"/><rect x="129.21" y="928.16" width="19.06" height="1.03" fill="#774aaf"/><rect x="129.21" y="928.10" width="19.06" height="1.06" fill="#757fdd"/><rect x="153.04" y="906.01" width="19.06" height="22.24" fill="#71328d"/><rect x="153.04" y="900.43" width="19.06" height="6.58" fill="#774aaf"/><rect x="153.04" y="867.53" width="19.06" height="33.90" fill="#757fdd"/><rect x="153.04" y="852.34" width="19.06" height="16.19" fill="#bfdde5"/><rect x="176.87" y="911.66" width="19.06" height="16.59" fill="#71328d"/><rect x="176.87" y="902.49" width="19.06" height="10.17" fill="#774aaf"/><rect x="176.87" y="726.92" width="19.06" height="176.57" fill="#7864ca"/><rect x="176.87" y="725.82" width="19.06" height="2.10" fill="#757fdd"/><rect x="176.87" y="690.10" width="19.06" height="36.71" fill="#bfdde5"/><rect x="200.70" y="856.92" width="19.06" height="71.33" fill="#71328d"/><rect x="200.70" y="853.46" width="19.06" height="4.46" fill="#774aaf"/><rect x="200.70" y="783.15" width="19.06" height="71.30" fill="#7864ca"/><rect x="200.70" y="493.10" width="19.06" height="291.05" fill="#757fdd"/><rect x="200.70" y="415.35" width="19.06" height="78.76" fill="#bfdde5"/><rect x="224.53" y="846.72" width="19.06" height="81.53" fill="#71328d"/><rect x="224.53" y="826.13" width="19.06" height="21.59" fill="#774aaf"/><rect x="224.53" y="821.77" width="19.06" height="5.37" fill="#7864ca"/><rect x="224.53" y="799.33" width="19.06" height="23.44" fill="#757fdd"/><rect x="224.53" y="674.41" width="19.06" height="125.92" fill="#bfdde5"/><rect x="248.36" y="927.91" width="19.06" height="0.34" fill="#71328d"/><rect x="248.36" y="927.88" width="19.06" height="1.03" fill="#774aaf"/><rect x="248.36" y="925.72" width="19.06" height="3.15" fill="#7864ca"/><rect x="248.36" y="922.76" width="19.06" height="3.96" fill="#757fdd"/><rect x="272.19" y="928.13" width="19.06" height="0.12" fill="#71328d"/><rect x="272.19" y="927.94" width="19.06" height="1.19" fill="#774aaf"/><rect x="272.19" y="892.16" width="19.06" height="36.77" fill="#7864ca"/><rect x="272.19" y="891.45" width="19.06" height="1.72" fill="#757fdd"/><rect x="272.19" y="884.30" width="19.06" height="8.14" fill="#bfdde5"/><rect x="296.02" y="914.96" width="19.06" height="13.29" fill="#71328d"/><rect x="296.02" y="914.68" width="19.06" height="1.28" fill="#774aaf"/><rect x="296.02" y="896.94" width="19.06" height="18.75" fill="#7864ca"/><rect x="296.02" y="876.25" width="19.06" height="21.68" fill="#757fdd"/><rect x="296.02" y="875.69" width="19.06" height="1.56" fill="#bfdde5"/><rect x="319.85" y="918.58" width="19.06" height="9.67" fill="#71328d"/><rect x="319.85" y="912.69" width="19.06" height="6.89" fill="#774aaf"/><rect x="319.85" y="716.06" width="19.06" height="197.62" fill="#7864ca"/><rect x="319.85" y="704.09" width="19.06" height="12.97" fill="#757fdd"/><rect x="319.85" y="683.70" width="19.06" height="21.40" fill="#bfdde5"/><rect x="343.68" y="927.00" width="19.06" height="1.25" fill="#71328d"/><rect x="343.68" y="926.78" width="19.06" height="1.22" fill="#774aaf"/><rect x="343.68" y="926.38" width="19.06" height="1.41" fill="#7864ca"/><rect x="343.68" y="926.02" width="19.06" height="1.36" fill="#757fdd"/><rect x="367.51" y="890.88" width="19.06" height="37.37" fill="#71328d"/><rect x="367.51" y="890.14" width="19.06" height="1.75" fill="#7864ca"/><rect x="367.51" y="798.25" width="19.06" height="92.89" fill="#757fdd"/><rect x="367.51" y="621.03" width="19.06" height="178.22" fill="#bfdde5"/><rect x="391.34" y="911.50" width="19.06" height="16.75" fill="#71328d"/><rect x="391.34" y="788.61" width="19.06" height="123.89" fill="#774aaf"/><rect x="391.34" y="784.25" width="19.06" height="5.37" fill="#7864ca"/><rect x="391.34" y="769.95" width="19.06" height="15.29" fill="#757fdd"/><rect x="391.34" y="700.15" width="19.06" height="70.80" fill="#bfdde5"/><rect x="415.17" y="921.42" width="19.06" height="6.83" fill="#71328d"/><rect x="415.17" y="814.78" width="19.06" height="107.64" fill="#774aaf"/><rect x="415.17" y="763.13" width="19.06" height="52.65" fill="#7864ca"/><rect x="415.17" y="735.15" width="19.06" height="28.98" fill="#757fdd"/><rect x="415.17" y="699.60" width="19.06" height="36.56" fill="#bfdde5"/><rect x="439.00" y="837.86" width="19.06" height="90.39" fill="#71328d"/><rect x="439.00" y="246.62" width="19.06" height="592.24" fill="#774aaf"/><rect x="439.00" y="198.09" width="19.06" height="49.53" fill="#7864ca"/><rect x="439.00" y="164.72" width="19.06" height="34.37" fill="#757fdd"/><rect x="439.00" y="163.75" width="19.06" height="1.97" fill="#bfdde5"/><rect x="462.83" y="722.61" width="19.06" height="205.64" fill="#71328d"/><rect x="462.83" y="666.66" width="19.06" height="56.95" fill="#774aaf"/><rect x="462.83" y="664.66" width="19.06" height="3.00" fill="#7864ca"/><rect x="462.83" y="644.25" width="19.06" height="21.41" fill="#757fdd"/><rect x="462.83" y="199.32" width="19.06" height="445.93" fill="#bfdde5"/><rect x="486.66" y="911.16" width="19.06" height="17.09" fill="#71328d"/><rect x="486.66" y="900.49" width="19.06" height="11.67" fill="#774aaf"/><rect x="486.66" y="853.30" width="19.06" height="48.19" fill="#7864ca"/><rect x="486.66" y="844.48" width="19.06" height="9.82" fill="#757fdd"/><rect x="486.66" y="797.92" width="19.06" height="47.57" fill="#bfdde5"/><rect x="510.49" y="922.07" width="19.06" height="6.18" fill="#71328d"/><rect x="510.49" y="921.82" width="19.06" height="1.25" fill="#774aaf"/><rect x="510.49" y="897.75" width="19.06" height="25.08" fill="#7864ca"/><rect x="510.49" y="895.87" width="19.06" height="2.88" fill="#757fdd"/><rect x="510.49" y="871.32" width="19.06" height="25.55" fill="#bfdde5"/><rect x="534.32" y="927.81" width="19.06" height="0.44" fill="#71328d"/><rect x="534.32" y="927.66" width="19.06" height="1.16" fill="#774aaf"/><rect x="534.32" y="924.41" width="19.06" height="4.24" fill="#7864ca"/><rect x="534.32" y="919.37" width="19.06" height="6.05" fill="#757fdd"/><rect x="558.15" y="926.50" width="19.06" height="1.75" fill="#71328d"/><rect x="558.15" y="925.54" width="19.06" height="1.97" fill="#774aaf"/><rect x="558.15" y="885.93" width="19.06" height="40.61" fill="#7864ca"/><rect x="558.15" y="878.19" width="19.06" height="8.74" fill="#757fdd"/><rect x="558.15" y="860.78" width="19.06" height="18.40" fill="#bfdde5"/><rect x="581.98" y="928.06" width="19.06" height="0.19" fill="#71328d"/><rect x="581.98" y="927.91" width="19.06" height="1.16" fill="#774aaf"/><rect x="581.98" y="927.72" width="19.06" height="1.19" fill="#7864ca"/><rect x="581.98" y="925.91" width="19.06" height="2.81" fill="#757fdd"/><rect x="605.81" y="916.49" width="19.06" height="11.76" fill="#71328d"/><rect x="605.81" y="879.66" width="19.06" height="37.84" fill="#774aaf"/><rect x="605.81" y="869.49" width="19.06" height="11.17" fill="#7864ca"/><rect x="605.81" y="802.49" width="19.06" height="68.00" fill="#757fdd"/><rect x="605.81" y="725.45" width="19.06" height="78.04" fill="#bfdde5"/><rect x="629.64" y="893.22" width="19.06" height="35.03" fill="#71328d"/><rect x="629.64" y="662.29" width="19.06" height="231.93" fill="#774aaf"/><rect x="629.64" y="603.28" width="19.06" height="60.01" fill="#7864ca"/><rect x="629.64" y="535.27" width="19.06" height="69.01" fill="#757fdd"/><rect x="629.64" y="367.44" width="19.06" height="168.83" fill="#bfdde5"/><rect x="653.47" y="924.26" width="19.06" height="3.99" fill="#71328d"/><rect x="653.47" y="914.78" width="19.06" height="10.48" fill="#774aaf"/><rect x="653.47" y="799.12" width="19.06" height="116.65" fill="#7864ca"/><rect x="653.47" y="798.05" width="19.06" height="2.08" fill="#757fdd"/><rect x="653.47" y="766.17" width="19.06" height="32.88" fill="#bfdde5"/><rect x="677.30" y="885.46" width="19.06" height="42.79" fill="#71328d"/><rect x="677.30" y="798.97" width="19.06" height="87.49" fill="#774aaf"/><rect x="677.30" y="737.80" width="19.06" height="62.16" fill="#7864ca"/><rect x="677.30" y="727.12" width="19.06" height="11.69" fill="#757fdd"/><rect x="677.30" y="676.68" width="19.06" height="51.43" fill="#bfdde5"/><rect x="701.13" y="895.50" width="19.06" height="32.75" fill="#71328d"/><rect x="701.13" y="890.29" width="19.06" height="6.21" fill="#774aaf"/><rect x="701.13" y="889.76" width="19.06" height="1.53" fill="#7864ca"/><rect x="701.13" y="887.63" width="19.06" height="3.13" fill="#757fdd"/><rect x="701.13" y="513.95" width="19.06" height="374.69" fill="#bfdde5"/><rect x="724.96" y="690.52" width="19.06" height="237.73" fill="#71328d"/><rect x="724.96" y="608.65" width="19.06" height="82.87" fill="#774aaf"/><rect x="724.96" y="598.85" width="19.06" height="10.79" fill="#7864ca"/><rect x="724.96" y="589.47" width="19.06" height="10.38" fill="#757fdd"/><rect x="724.96" y="498.31" width="19.06" height="92.17" fill="#bfdde5"/><rect x="748.79" y="921.45" width="19.06" height="6.80" fill="#71328d"/><rect x="748.79" y="921.39" width="19.06" height="1.06" fill="#774aaf"/><rect x="748.79" y="916.22" width="19.06" height="6.17" fill="#757fdd"/><rect x="748.79" y="914.54" width="19.06" height="2.68" fill="#bfdde5"/><rect x="772.62" y="928.06" width="19.06" height="0.19" fill="#71328d"/><rect x="772.62" y="928.00" width="19.06" height="1.06" fill="#774aaf"/><rect x="772.62" y="927.75" width="19.06" height="1.25" fill="#7864ca"/><rect x="772.62" y="925.42" width="19.06" height="3.33" fill="#757fdd"/><rect x="796.45" y="928.00" width="19.06" height="0.25" fill="#71328d"/><rect x="796.45" y="927.88" width="19.06" height="1.12" fill="#774aaf"/><rect x="796.45" y="926.44" width="19.06" height="2.43" fill="#7864ca"/><rect x="796.45" y="925.39" width="19.06" height="2.05" fill="#757fdd"/><rect x="796.45" y="923.30" width="19.06" height="3.09" fill="#bfdde5"/><rect x="820.28" y="891.70" width="19.06" height="36.55" fill="#71328d"/><rect x="820.28" y="891.66" width="19.06" height="1.03" fill="#774aaf"/><rect x="820.28" y="891.57" width="19.06" height="1.09" fill="#7864ca"/><rect x="820.28" y="831.99" width="19.06" height="60.58" fill="#757fdd"/><rect x="820.28" y="827.66" width="19.06" height="5.34" fill="#bfdde5"/><rect x="844.11" y="921.33" width="19.06" height="6.92" fill="#71328d"/><rect x="844.11" y="919.52" width="19.06" height="2.81" fill="#774aaf"/><rect x="844.11" y="914.00" width="19.06" height="6.52" fill="#7864ca"/><rect x="844.11" y="810.51" width="19.06" height="104.49" fill="#757fdd"/><rect x="844.11" y="801.18" width="19.06" height="10.33" fill="#bfdde5"/><rect x="867.94" y="920.51" width="19.06" height="7.74" fill="#71328d"/><rect x="867.94" y="701.31" width="19.06" height="220.20" fill="#774aaf"/><rect x="867.94" y="514.67" width="19.06" height="187.64" fill="#7864ca"/><rect x="867.94" y="506.90" width="19.06" height="8.77" fill="#757fdd"/><rect x="867.94" y="444.43" width="19.06" height="63.47" fill="#bfdde5"/><rect x="891.77" y="903.77" width="19.06" height="24.48" fill="#71328d"/><rect x="891.77" y="898.74" width="19.06" height="6.02" fill="#774aaf"/><rect x="891.77" y="898.59" width="19.06" height="1.16" fill="#7864ca"/><rect x="891.77" y="896.05" width="19.06" height="3.54" fill="#757fdd"/><rect x="891.77" y="376.89" width="19.06" height="520.16" fill="#bfdde5"/><rect x="915.60" y="916.96" width="19.06" height="11.29" fill="#71328d"/><rect x="915.60" y="854.86" width="19.06" height="63.10" fill="#774aaf"/><rect x="915.60" y="814.34" width="19.06" height="41.52" fill="#7864ca"/><rect x="915.60" y="772.37" width="19.06" height="42.97" fill="#757fdd"/><rect x="915.60" y="707.68" width="19.06" height="65.69" fill="#bfdde5"/><rect x="939.43" y="822.95" width="19.06" height="105.30" fill="#71328d"/><rect x="939.43" y="740.21" width="19.06" height="83.75" fill="#774aaf"/><rect x="939.43" y="699.32" width="19.06" height="41.89" fill="#7864ca"/><rect x="939.43" y="691.72" width="19.06" height="8.59" fill="#757fdd"/><rect x="939.43" y="590.42" width="19.06" height="102.31" fill="#bfdde5"/><rect x="963.26" y="909.91" width="19.06" height="18.34" fill="#71328d"/><rect x="963.26" y="909.47" width="19.06" height="1.44" fill="#774aaf"/><rect x="963.26" y="905.04" width="19.06" height="5.43" fill="#7864ca"/><rect x="963.26" y="885.19" width="19.06" height="20.86" fill="#757fdd"/><rect x="963.26" y="785.29" width="19.06" height="100.90" fill="#bfdde5"/><rect x="987.09" y="912.37" width="19.06" height="15.88" fill="#71328d"/><rect x="987.09" y="883.90" width="19.06" height="29.48" fill="#774aaf"/><rect x="987.09" y="830.94" width="19.06" height="53.96" fill="#7864ca"/><rect x="987.09" y="743.33" width="19.06" height="88.60" fill="#757fdd"/><rect x="987.09" y="730.55" width="19.06" height="13.79" fill="#bfdde5"/><rect x="1010.92" y="928.22" width="19.06" height="0.03" fill="#71328d"/><rect x="1010.92" y="928.19" width="19.06" height="1.03" fill="#774aaf"/><rect x="1010.92" y="928.13" width="19.06" height="1.06" fill="#7864ca"/><rect x="1010.92" y="927.96" width="19.06" height="1.16" fill="#757fdd"/><rect x="1034.75" y="923.51" width="19.06" height="4.74" fill="#71328d"/><rect x="1034.75" y="920.11" width="19.06" height="4.40" fill="#774aaf"/><rect x="1034.75" y="861.94" width="19.06" height="59.17" fill="#7864ca"/><rect x="1034.75" y="859.56" width="19.06" height="3.38" fill="#757fdd"/><rect x="1034.75" y="842.32" width="19.06" height="18.25" fill="#bfdde5"/><rect x="1058.58" y="867.90" width="19.06" height="60.35" fill="#71328d"/><rect x="1058.58" y="817.93" width="19.06" height="50.97" fill="#774aaf"/><rect x="1058.58" y="808.79" width="19.06" height="10.14" fill="#7864ca"/><rect x="1058.58" y="794.20" width="19.06" height="15.59" fill="#757fdd"/><rect x="1058.58" y="574.47" width="19.06" height="220.73" fill="#bfdde5"/><rect x="1082.41" y="912.31" width="19.06" height="15.94" fill="#71328d"/><rect x="1082.41" y="906.82" width="19.06" height="6.49" fill="#774aaf"/><rect x="1082.41" y="881.12" width="19.06" height="26.70" fill="#7864ca"/><rect x="1082.41" y="874.52" width="19.06" height="7.61" fill="#757fdd"/><rect x="1082.41" y="843.33" width="19.06" height="32.19" fill="#bfdde5"/><rect x="1106.24" y="628.51" width="19.06" height="299.74" fill="#71328d"/><rect x="1106.24" y="615.20" width="19.06" height="14.32" fill="#774aaf"/><rect x="1106.24" y="509.40" width="19.06" height="106.80" fill="#7864ca"/><rect x="1106.24" y="434.37" width="19.06" height="76.03" fill="#757fdd"/><rect x="1106.24" y="337.78" width="19.06" height="97.60" fill="#bfdde5"/><rect x="1130.07" y="919.55" width="19.06" height="8.70" fill="#71328d"/><rect x="1130.07" y="901.15" width="19.06" height="19.40" fill="#774aaf"/><rect x="1130.07" y="893.94" width="19.06" height="8.20" fill="#7864ca"/><rect x="1130.07" y="878.78" width="19.06" height="16.16" fill="#757fdd"/><rect x="1130.07" y="865.43" width="19.06" height="14.35" fill="#bfdde5"/><rect x="1153.90" y="926.32" width="19.06" height="1.93" fill="#71328d"/><rect x="1153.90" y="926.25" width="19.06" height="1.06" fill="#774aaf"/><rect x="1153.90" y="925.97" width="19.06" height="1.28" fill="#7864ca"/><rect x="1153.90" y="905.39" width="19.06" height="21.58" fill="#757fdd"/><rect x="1177.73" y="915.93" width="19.06" height="12.32" fill="#71328d"/><rect x="1177.73" y="910.66" width="19.06" height="6.27" fill="#774aaf"/><rect x="1177.73" y="859.29" width="19.06" height="52.37" fill="#7864ca"/><rect x="1177.73" y="844.36" width="19.06" height="15.92" fill="#757fdd"/><rect x="1177.73" y="820.19" width="19.06" height="25.17" fill="#bfdde5"/><rect x="1201.56" y="909.79" width="19.06" height="18.46" fill="#71328d"/><rect x="1201.56" y="898.68" width="19.06" height="12.10" fill="#7864ca"/><rect x="1201.56" y="850.59" width="19.06" height="49.09" fill="#757fdd"/><rect x="1201.56" y="605.35" width="19.06" height="246.25" fill="#bfdde5"/><rect x="1225.39" y="924.51" width="19.06" height="3.74" fill="#71328d"/><rect x="1225.39" y="924.41" width="19.06" height="1.09" fill="#774aaf"/><rect x="1225.39" y="910.25" width="19.06" height="15.16" fill="#7864ca"/><rect x="1225.39" y="909.04" width="19.06" height="2.22" fill="#757fdd"/><rect x="1225.39" y="908.54" width="19.06" height="1.50" fill="#bfdde5"/><rect x="1249.22" y="894.78" width="19.06" height="33.47" fill="#71328d"/><rect x="1249.22" y="882.74" width="19.06" height="13.04" fill="#774aaf"/><rect x="1249.22" y="871.98" width="19.06" height="11.76" fill="#7864ca"/><rect x="1249.22" y="674.36" width="19.06" height="198.62" fill="#757fdd"/><rect x="1249.22" y="644.20" width="19.06" height="31.16" fill="#bfdde5"/><rect x="1273.05" y="904.83" width="19.06" height="23.42" fill="#71328d"/><rect x="1273.05" y="894.47" width="19.06" height="11.36" fill="#774aaf"/><rect x="1273.05" y="894.44" width="19.06" height="1.03" fill="#7864ca"/><rect x="1273.05" y="893.54" width="19.06" height="1.90" fill="#757fdd"/><rect x="1273.05" y="887.08" width="19.06" height="7.46" fill="#bfdde5"/><line x1="103.00" x2="1294.50" y1="928.25" y2="928.25" stroke="#444" stroke-width="1"/><text transform="translate(110.31,936.50) rotate(90)" font-size="13.5" fill="#555">Alabama</text><text transform="translate(134.14,936.50) rotate(90)" font-size="13.5" fill="#555">Alaska</text><text transform="translate(157.97,936.50) rotate(90)" font-size="13.5" fill="#555">Arizona</text><text transform="translate(181.81,936.50) rotate(90)" font-size="13.5" fill="#555">Arkansas</text><text transform="translate(205.63,936.50) rotate(90)" font-size="13.5" fill="#555">California</text><text transform="translate(229.46,936.50) rotate(90)" font-size="13.5" fill="#555">Colorado</text><text transform="translate(253.30,936.50) rotate(90)" font-size="13.5" fill="#555">Connecticut</text><text transform="translate(277.12,936.50) rotate(90)" font-size="13.5" fill="#555">Delaware</text><text transform="translate(300.95,936.50) rotate(90)" font-size="13.5" fill="#555">Florida</text><text transform="translate(324.79,936.50) rotate(90)" font-size="13.5" fill="#555">Georgia</text><text transform="translate(348.62,936.50) rotate(90)" font-size="13.5" fill="#555">Hawaii</text><text transform="translate(372.44,936.50) rotate(90)" font-size="13.5" fill="#555">Idaho</text><text transform="translate(396.28,936.50) rotate(90)" font-size="13.5" fill="#555">Illinois</text><text transform="translate(420.10,936.50) rotate(90)" font-size="13.5" fill="#555">Indiana</text><text transform="translate(443.93,936.50) rotate(90)" font-size="13.5" fill="#555">Iowa</text><text transform="translate(467.77,936.50) rotate(90)" font-size="13.5" fill="#555">Kansas</text><text transform="translate(491.59,936.50) rotate(90)" font-size="13.5" fill="#555">Kentucky</text><text transform="translate(515.42,936.50) rotate(90)" font-size="13.5" fill="#555">Louisiana</text><text transform="translate(539.25,936.50) rotate(90)" font-size="13.5" fill="#555">Maine</text><text transform="translate(563.08,936.50) rotate(90)" font-size="13.5" fill="#555">Maryland</text><text transform="translate(586.91,936.50) rotate(90)" font-size="13.5" fill="#555">Massachusetts</text><text transform="translate(610.74,936.50) rotate(90)" font-size="13.5" fill="#555">Michigan</text><text transform="translate(634.57,936.50) rotate(90)" font-size="13.5" fill="#555">Minnesota</text><text transform="translate(658.40,936.50) rotate(90)" font-size="13.5" fill="#555">Mississippi</text><text transform="translate(682.23,936.50) rotate(90)" font-size="13.5" fill="#555">Missouri</text><text transform="translate(706.06,936.50) rotate(90)" font-size="13.5" fill="#555">Montana</text><text transform="translate(729.89,936.50) rotate(90)" font-size="13.5" fill="#555">Nebraska</text><text transform="translate(753.72,936.50) rotate(90)" font-size="13.5" fill="#555">Nevada</text><text transform="translate(777.55,936.50) rotate(90)" font-size="13.5" fill="#555">New Hampshire</text><text transform="translate(801.38,936.50) rotate(90)" font-size="13.5" fill="#555">New Jersey</text><text transform="translate(825.21,936.50) rotate(90)" font-size="13.5" fill="#555">New Mexico</text><text transform="translate(849.04,936.50) rotate(90)" font-size="13.5" fill="#555">New York</text><text transform="translate(872.88,936.50) rotate(90)" font-size="13.5" fill="#555">North Carolina</text><text transform="translate(896.70,936.50) rotate(90)" font-size="13.5" fill="#555">North Dakota</text><text transform="translate(920.53,936.50) rotate(90)" font-size="13.5" fill="#555">Ohio</text><text transform="translate(944.37,936.50) rotate(90)" font-size="13.5" fill="#555">Oklahoma</text><text transform="translate(968.19,936.50) rotate(90)" font-size="13.5" fill="#555">Oregon</text><text transform="translate(992.02,936.50) rotate(90)" font-size="13.5" fill="#555">Pennsylvania</text><text transform="translate(1015.86,936.50) rotate(90)" font-size="13.5" fill="#555">Rhode Island</text><text transform="translate(1039.68,936.50) rotate(90)" font-size="13.5" fill="#555">South Carolina</text><text transform="translate(1063.52,936.50) rotate(90)" font-size="13.5" fill="#555">South Dakota</text><text transform="translate(1087.35,936.50) rotate(90)" font-size="13.5" fill="#555">Tennessee</text><text transform="translate(1111.17,936.50) rotate(90)" font-size="13.5" fill="#555">Texas</text><text transform="translate(1135.01,936.50) rotate(90)" font-size="13.5" fill="#555">Utah</text><text transform="translate(1158.84,936.50) rotate(90)" font-size="13.5" fill="#555">Vermont</text><text transform="translate(1182.66,936.50) rotate(90)" font-size="13.5" fill="#555">Virginia</text><text transform="translate(1206.50,936.50) rotate(90)" font-size="13.5" fill="#555">Washington</text><text transform="translate(1230.33,936.50) rotate(90)" font-size="13.5" fill="#555">West Virginia</text><text transform="translate(1254.15,936.50) rotate(90)" font-size="13.5" fill="#555">Wisconsin</text><text transform="translate(1277.99,936.50) rotate(90)" font-size="13.5" fill="#555">Wyoming</text><text x="721.25" y="67.75" text-anchor="middle" font-size="19.4" fill="#dcdde1">Click to enter Plot title</text><text x="694.25" y="1012.05" text-anchor="middle" font-size="15.1" fill="#dcdde1">Click to enter X axis title</text><text transform="translate(60.30,525.75) rotate(-90)" text-anchor="middle" font-size="15.1" fill="#dcdde1">Click to enter Y axis title</text><rect x="1333.75" y="133.62" width="13.00" height="12.75" fill="#bfdde5"/><text x="1362.00" y="144.80" font-size="13.5" fill="#555">Wheat</text><rect x="1333.75" y="154.50" width="13.00" height="12.75" fill="#757fdd"/><text x="1362.00" y="165.68" font-size="13.5" fill="#555">Dairy</text><rect x="1333.75" y="175.37" width="13.00" height="12.75" fill="#7864ca"/><text x="1362.00" y="186.55" font-size="13.5" fill="#555">Poultry</text><rect x="1333.75" y="196.25" width="13.00" height="12.75" fill="#774aaf"/><text x="1362.00" y="207.43" font-size="13.5" fill="#555">Pork</text><rect x="1333.75" y="217.12" width="13.00" height="12.75" fill="#71328d"/><text x="1362.00" y="228.30" font-size="13.5" fill="#555">Beef</text></svg>
<div style="left:1849.5px;top:1212.25px;width:65px;height:65px;background:#a6b4c9;border-radius:50%;box-shadow:0 0 14px 6px rgba(120,130,150,0.10);"></div>
<svg class="abs" style="left:1849.50px;top:1212.25px" width="65" height="65" viewBox="0 0 65 65"><path d="M20.5 16 H42 a4 4 0 0 1 4 4 V50.5 L40.5 46.5 H20.5 a4 4 0 0 1 -4 -4 V20 a4 4 0 0 1 4 -4 Z" fill="#fff"/><path d="M22.5 37.5 Q31 43 39.5 37.5" fill="none" stroke="#a6b4c9" stroke-width="1.6" stroke-linecap="round"/></svg>
</div></div></body></html>
